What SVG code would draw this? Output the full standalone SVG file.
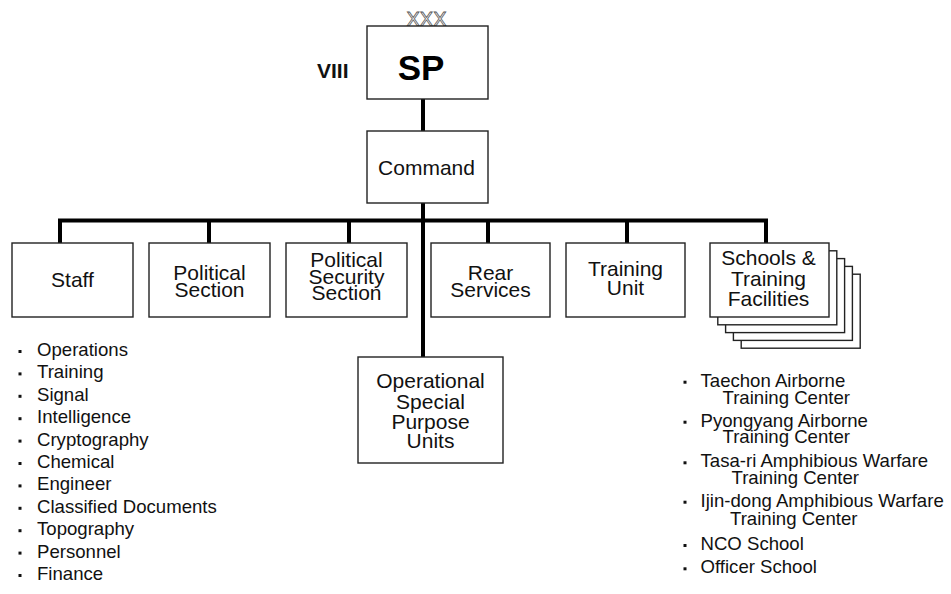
<svg xmlns="http://www.w3.org/2000/svg" width="951" height="594" viewBox="0 0 951 594">
<style>
.box{fill:#fff;stroke:#222;stroke-width:1.4}
.lbl{font-family:"Liberation Sans",Arial,sans-serif;font-size:21px;fill:#111;text-anchor:middle}
.lst{font-family:"Liberation Sans",Arial,sans-serif;font-size:18.6px;fill:#111}
.con{fill:none;stroke:#000;stroke-width:4}
.bul{fill:#111}
</style>
<rect width="951" height="594" fill="#fff"/>
<g id="connectors">
<line class="con" x1="423" y1="99" x2="423" y2="131"/>
<line class="con" x1="423" y1="203" x2="423" y2="357"/>
<polyline class="con" points="60,243 60,220.5 766,220.5 766,243"/>
<line class="con" x1="209" y1="220.5" x2="209" y2="243"/>
<line class="con" x1="349" y1="220.5" x2="349" y2="243"/>
<line class="con" x1="488" y1="220.5" x2="488" y2="243"/>
<line class="con" x1="627" y1="220.5" x2="627" y2="243"/>
</g>
<g id="sp">
<text x="426.5" y="25.5" style="font-family:'Liberation Sans',Arial,sans-serif;font-size:20px;fill:#fff;stroke:#555;stroke-width:0.8" text-anchor="middle">XXX</text>
<rect class="box" x="367" y="26" width="121" height="73"/>
<text x="421" y="80" style="font-family:'Liberation Sans',Arial,sans-serif;font-size:35px;font-weight:bold;fill:#000" text-anchor="middle">SP</text>
<text x="317" y="78" style="font-family:'Liberation Sans',Arial,sans-serif;font-size:21px;font-weight:bold;fill:#111">VIII</text>
</g>
<g id="command">
<rect class="box" x="367" y="131" width="121" height="72"/>
<text class="lbl" x="426.5" y="174.5">Command</text>
</g>
<g id="staff">
<rect class="box" x="12" y="243" width="121" height="74"/>
<text class="lbl" x="72.5" y="287">Staff</text>
</g>
<g id="political-section">
<rect class="box" x="149" y="243" width="121" height="74"/>
<text class="lbl"><tspan x="209.5" y="279.5">Political</tspan><tspan x="209.5" y="297">Section</tspan></text>
</g>
<g id="political-security-section">
<rect class="box" x="286" y="243" width="121" height="74"/>
<text class="lbl"><tspan x="346.5" y="266.5">Political</tspan><tspan x="346.5" y="283.5">Security</tspan><tspan x="346.5" y="300">Section</tspan></text>
</g>
<g id="rear-services">
<rect class="box" x="431" y="243" width="119" height="74"/>
<text class="lbl"><tspan x="490.5" y="280">Rear</tspan><tspan x="490.5" y="296.5">Services</tspan></text>
</g>
<g id="training-unit">
<rect class="box" x="566" y="243" width="119" height="74"/>
<text class="lbl"><tspan x="625.5" y="276">Training</tspan><tspan x="625.5" y="295">Unit</tspan></text>
</g>
<g id="schools">
<rect class="box" x="741.2" y="274.2" width="119" height="74"/>
<rect class="box" x="733.4" y="266.4" width="119" height="74"/>
<rect class="box" x="725.6" y="258.6" width="119" height="74"/>
<rect class="box" x="717.8" y="250.8" width="119" height="74"/>
<rect class="box" x="710" y="243" width="119" height="74"/>
<text class="lbl"><tspan x="768.5" y="264.5">Schools &amp;</tspan><tspan x="768.5" y="286">Training</tspan><tspan x="768.5" y="306">Facilities</tspan></text>
</g>
<g id="operational">
<rect class="box" x="358" y="357" width="145" height="106"/>
<text class="lbl"><tspan x="430.5" y="388">Operational</tspan><tspan x="430.5" y="408.5">Special</tspan><tspan x="430.5" y="428.5">Purpose</tspan><tspan x="430.5" y="448">Units</tspan></text>
</g>
<g id="staff-list">
<rect class="bul" x="18.5" y="350" width="3" height="3"/>
<rect class="bul" x="18.5" y="372.4" width="3" height="3"/>
<rect class="bul" x="18.5" y="394.8" width="3" height="3"/>
<rect class="bul" x="18.5" y="417.2" width="3" height="3"/>
<rect class="bul" x="18.5" y="439.6" width="3" height="3"/>
<rect class="bul" x="18.5" y="462" width="3" height="3"/>
<rect class="bul" x="18.5" y="484.4" width="3" height="3"/>
<rect class="bul" x="18.5" y="506.8" width="3" height="3"/>
<rect class="bul" x="18.5" y="529.2" width="3" height="3"/>
<rect class="bul" x="18.5" y="551.6" width="3" height="3"/>
<rect class="bul" x="18.5" y="574" width="3" height="3"/>
<text class="lst" x="37" y="356">Operations</text>
<text class="lst" x="37" y="378.4">Training</text>
<text class="lst" x="37" y="400.8">Signal</text>
<text class="lst" x="37" y="423.2">Intelligence</text>
<text class="lst" x="37" y="445.6">Cryptography</text>
<text class="lst" x="37" y="468">Chemical</text>
<text class="lst" x="37" y="490.4">Engineer</text>
<text class="lst" x="37" y="512.8">Classified Documents</text>
<text class="lst" x="37" y="535.2">Topography</text>
<text class="lst" x="37" y="557.6">Personnel</text>
<text class="lst" x="37" y="580">Finance</text>
</g>
<g id="schools-list">
<rect class="bul" x="683.5" y="380.7" width="3" height="3"/>
<rect class="bul" x="683.5" y="420.7" width="3" height="3"/>
<rect class="bul" x="683.5" y="461.3" width="3" height="3"/>
<rect class="bul" x="683.5" y="500.7" width="3" height="3"/>
<rect class="bul" x="683.5" y="544" width="3" height="3"/>
<rect class="bul" x="683.5" y="567.3" width="3" height="3"/>
<text class="lst"><tspan x="700.5" y="386.7">Taechon Airborne</tspan><tspan x="722.5" y="404.3">Training Center</tspan></text>
<text class="lst"><tspan x="700.5" y="426.7">Pyongyang Airborne</tspan><tspan x="722.5" y="443.3">Training Center</tspan></text>
<text class="lst"><tspan x="700.5" y="467.3">Tasa-ri Amphibious Warfare</tspan><tspan x="731.5" y="484.3">Training Center</tspan></text>
<text class="lst"><tspan x="700.5" y="506.7">Ijin-dong Amphibious Warfare</tspan><tspan x="730" y="525">Training Center</tspan></text>
<text class="lst" x="700.5" y="550">NCO School</text>
<text class="lst" x="700.5" y="573.3">Officer School</text>
</g>
</svg>
